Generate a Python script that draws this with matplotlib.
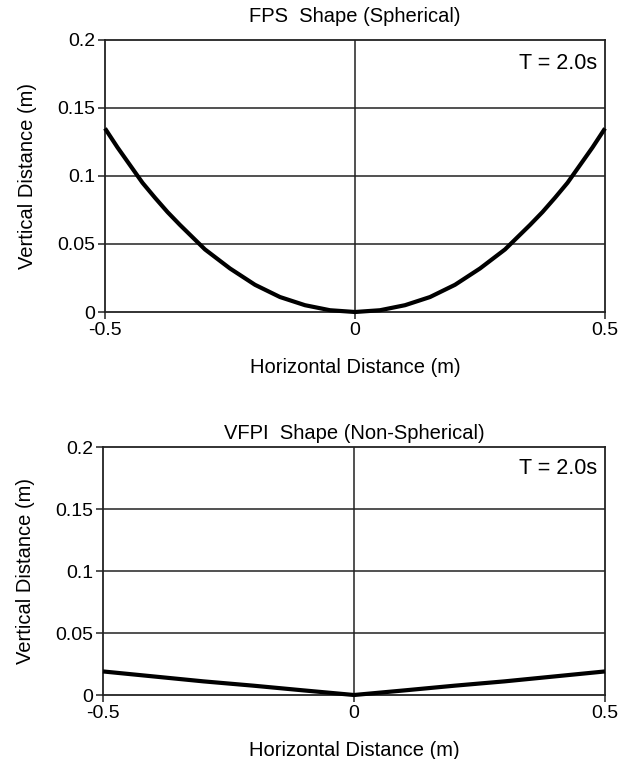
import numpy as np
import matplotlib
matplotlib.use('Agg')
import matplotlib.pyplot as plt

plt.rcParams['font.family'] = ['Liberation Sans', 'DejaVu Sans']

# Datos
x_fps = [-0.5, -0.475, -0.45, -0.425, -0.4, -0.375, -0.35, -0.3, -0.25, -0.2, -0.15, -0.1, -0.05, 0.0,
         0.05, 0.1, 0.15, 0.2, 0.25, 0.3, 0.35, 0.375, 0.4, 0.425, 0.45, 0.475, 0.5]
y_fps = [0.135, 0.121, 0.108, 0.095, 0.084, 0.0735, 0.064, 0.046, 0.032, 0.020, 0.011, 0.005, 0.0013, 0.0,
         0.0013, 0.005, 0.011, 0.020, 0.032, 0.046, 0.064, 0.0735, 0.084, 0.095, 0.108, 0.121, 0.135]
x_vfpi = [-0.5, -0.4, -0.3, -0.2, -0.1, 0.0, 0.1, 0.2, 0.3, 0.4, 0.5]
y_vfpi = [0.019, 0.015, 0.011, 0.0075, 0.0037, 0.0,
          0.0037, 0.0075, 0.011, 0.015, 0.019]

titulos = ['FPS  Shape (Spherical)', 'VFPI  Shape (Non-Spherical)']
yticks = [0, 0.05, 0.1, 0.15, 0.2]
yticklabels = ['0', '0.05', '0.1', '0.15', '0.2']
xticks = [-0.5, 0, 0.5]
xticklabels = ['-0.5', '0', '0.5']

fig = plt.figure(figsize=(6.29, 7.59), dpi=100)
ax1 = fig.add_axes([105/629, 1 - 312/759, 500/629, 272/759])
ax2 = fig.add_axes([103/629, 1 - 695/759, 502/629, 248/759])

for ax, xv, yv, tit, pad in [(ax1, x_fps, y_fps, titulos[0], 13), (ax2, x_vfpi, y_vfpi, titulos[1], 5.5)]:
    for yg in yticks[1:-1]:
        ax.axhline(yg, color='#222222', lw=1.1, zorder=1)
    ax.axvline(0, color='#222222', lw=1.1, zorder=1)
    ax.plot(xv, yv, color='black', lw=3.0, zorder=3, clip_on=False,
            solid_joinstyle='round', solid_capstyle='butt')
    ax.set_xlim(-0.5, 0.5)
    ax.set_ylim(0, 0.2)
    ax.set_xticks(xticks)
    ax.set_xticklabels(xticklabels)
    ax.set_yticks(yticks)
    ax.set_yticklabels(yticklabels)
    ax.tick_params(direction='out', length=5, width=1.1, labelsize=14, pad=2, color='#222222')
    for s in ax.spines.values():
        s.set_linewidth(1.3)
        s.set_color('#222222')
    ax.set_title(tit, fontsize=14.5, pad=pad)
    ax.set_xlabel('Horizontal Distance (m)', fontsize=14.5, labelpad=14)
    ax.set_ylabel('Vertical Distance (m)', fontsize=14.5)
    ax.yaxis.set_label_coords(-0.135, 0.5)
    ax.text(0.985, 0.915, 'T = 2.0s', transform=ax.transAxes, ha='right', va='center', fontsize=15.5)

fig.savefig('out.png', dpi=100)
